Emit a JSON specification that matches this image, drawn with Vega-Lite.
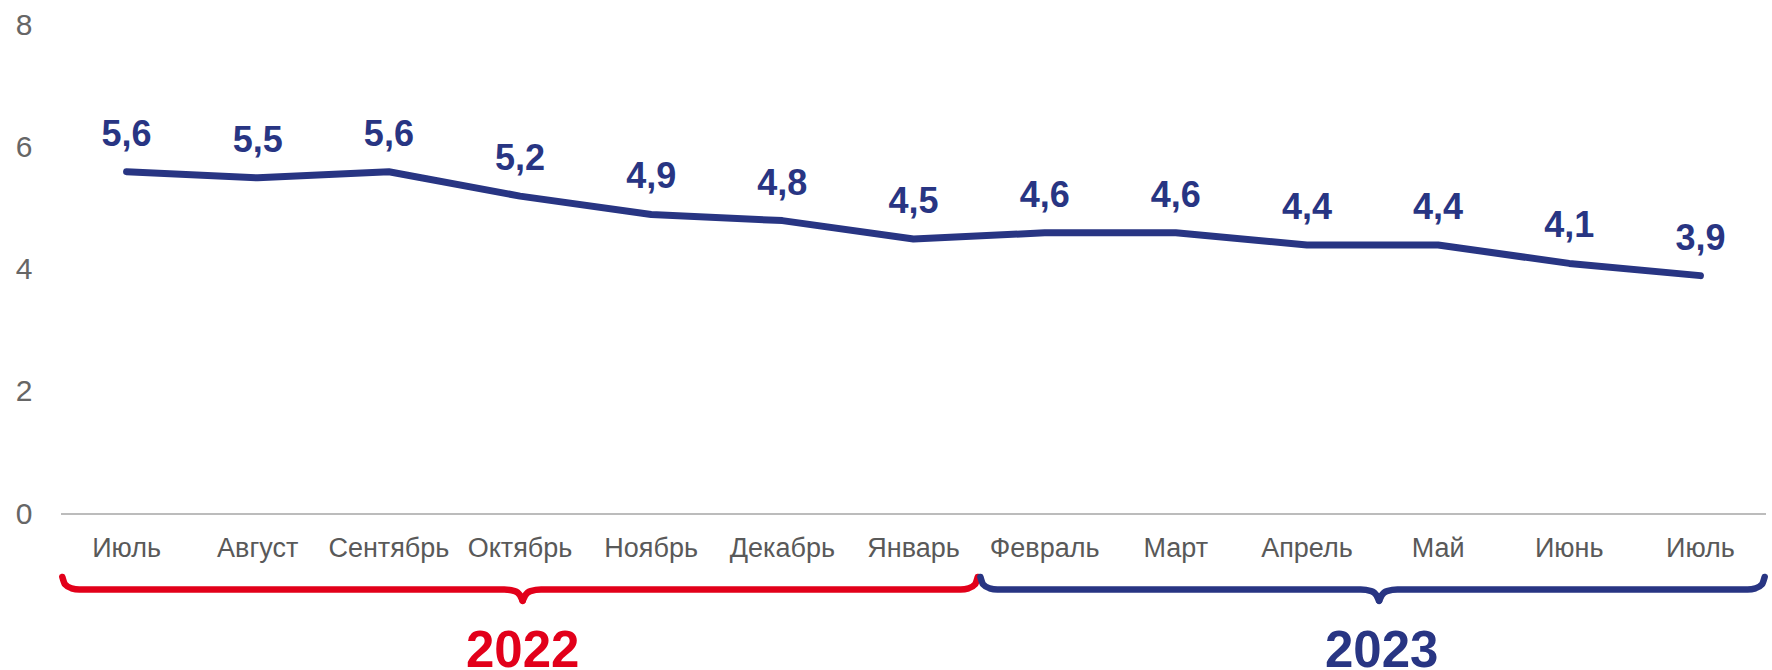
{
  "$schema": "https://vega.github.io/schema/vega-lite/v6.json",
  "autosize": "none",
  "width": 1705,
  "height": 645,
  "padding": {"left": 61, "top": 25, "right": 6, "bottom": 0},
  "background": "white",
  "config": {
    "view": {"stroke": null},
    "font": "Liberation Sans",
    "locale": {"number": {"decimal": ",", "thousands": "\u00a0", "grouping": [3], "currency": ["", ""]}}
  },
  "datasets": {
    "series": [
      {"i": 0, "month": "Июль", "year": "2022", "value": 5.6},
      {"i": 1, "month": "Август", "year": "2022", "value": 5.5},
      {"i": 2, "month": "Сентябрь", "year": "2022", "value": 5.6},
      {"i": 3, "month": "Октябрь", "year": "2022", "value": 5.2},
      {"i": 4, "month": "Ноябрь", "year": "2022", "value": 4.9},
      {"i": 5, "month": "Декабрь", "year": "2022", "value": 4.8},
      {"i": 6, "month": "Январь", "year": "2023", "value": 4.5},
      {"i": 7, "month": "Февраль", "year": "2023", "value": 4.6},
      {"i": 8, "month": "Март", "year": "2023", "value": 4.6},
      {"i": 9, "month": "Апрель", "year": "2023", "value": 4.4},
      {"i": 10, "month": "Май", "year": "2023", "value": 4.4},
      {"i": 11, "month": "Июнь", "year": "2023", "value": 4.1},
      {"i": 12, "month": "Июль", "year": "2023", "value": 3.9}
    ],
    "braces": [
      {"year": "2022", "part": "2022a", "x": -0.49, "y": -1.03},
      {"year": "2022", "part": "2022a", "x": -0.47, "y": -1.15},
      {"year": "2022", "part": "2022a", "x": -0.42, "y": -1.215},
      {"year": "2022", "part": "2022a", "x": -0.36, "y": -1.235},
      {"year": "2022", "part": "2022a", "x": 2.88, "y": -1.235},
      {"year": "2022", "part": "2022a", "x": 2.96, "y": -1.26},
      {"year": "2022", "part": "2022a", "x": 3.0, "y": -1.33},
      {"year": "2022", "part": "2022a", "x": 3.02, "y": -1.42},
      {"year": "2022", "part": "2022b", "x": 3.02, "y": -1.42},
      {"year": "2022", "part": "2022b", "x": 3.04, "y": -1.33},
      {"year": "2022", "part": "2022b", "x": 3.08, "y": -1.26},
      {"year": "2022", "part": "2022b", "x": 3.16, "y": -1.235},
      {"year": "2022", "part": "2022b", "x": 6.36, "y": -1.235},
      {"year": "2022", "part": "2022b", "x": 6.42, "y": -1.215},
      {"year": "2022", "part": "2022b", "x": 6.47, "y": -1.15},
      {"year": "2022", "part": "2022b", "x": 6.49, "y": -1.03},
      {"year": "2023", "part": "2023a", "x": 6.51, "y": -1.03},
      {"year": "2023", "part": "2023a", "x": 6.53, "y": -1.15},
      {"year": "2023", "part": "2023a", "x": 6.58, "y": -1.215},
      {"year": "2023", "part": "2023a", "x": 6.64, "y": -1.235},
      {"year": "2023", "part": "2023a", "x": 9.41, "y": -1.235},
      {"year": "2023", "part": "2023a", "x": 9.49, "y": -1.26},
      {"year": "2023", "part": "2023a", "x": 9.53, "y": -1.33},
      {"year": "2023", "part": "2023a", "x": 9.55, "y": -1.42},
      {"year": "2023", "part": "2023b", "x": 9.55, "y": -1.42},
      {"year": "2023", "part": "2023b", "x": 9.57, "y": -1.33},
      {"year": "2023", "part": "2023b", "x": 9.61, "y": -1.26},
      {"year": "2023", "part": "2023b", "x": 9.69, "y": -1.235},
      {"year": "2023", "part": "2023b", "x": 12.36, "y": -1.235},
      {"year": "2023", "part": "2023b", "x": 12.42, "y": -1.215},
      {"year": "2023", "part": "2023b", "x": 12.47, "y": -1.15},
      {"year": "2023", "part": "2023b", "x": 12.49, "y": -1.03}
    ],
    "years": [
      {"year": "2022", "x": 3.02, "y": -2.495},
      {"year": "2023", "x": 9.57, "y": -2.495}
    ],
    "baseline": [{"v": 0}]
  },
  "layer": [
    {
      "data": {"name": "baseline"},
      "mark": {"type": "rule", "color": "#a6a6a6", "strokeWidth": 1.5},
      "encoding": {"y": {"field": "v", "type": "quantitative"}}
    },
    {
      "data": {"name": "series"},
      "mark": {"type": "line", "color": "#283583", "strokeWidth": 7, "strokeCap": "round", "strokeJoin": "round"},
      "encoding": {
        "x": {"field": "i", "type": "quantitative", "scale": {"domain": [-0.5, 12.5], "nice": false, "zero": false}, "axis": null},
        "y": {"field": "value", "type": "quantitative", "scale": {"domain": [-2.552, 8], "nice": false, "zero": false},
              "axis": {"values": [0, 2, 4, 6, 8], "format": "d", "domain": false, "ticks": false, "grid": false, "labelFontSize": 30, "labelColor": "#666666", "labelPadding": 29, "labelFont": "Liberation Sans", "title": null}}
      }
    },
    {
      "data": {"name": "series"},
      "mark": {"type": "text", "color": "#283583", "fontSize": 36, "fontWeight": "bold", "baseline": "alphabetic", "align": "center", "dy": -26},
      "encoding": {
        "x": {"field": "i", "type": "quantitative"},
        "y": {"field": "value", "type": "quantitative"},
        "text": {"field": "value", "type": "quantitative", "format": ".1f"}
      }
    },
    {
      "data": {"name": "series"},
      "mark": {"type": "text", "color": "#595959", "fontSize": 27, "baseline": "alphabetic", "align": "center"},
      "encoding": {
        "x": {"field": "i", "type": "quantitative"},
        "y": {"datum": -0.703, "type": "quantitative"},
        "text": {"field": "month", "type": "nominal"}
      }
    },
    {
      "data": {"name": "braces"},
      "mark": {"type": "line", "strokeWidth": 6.5, "strokeCap": "round", "strokeJoin": "round", "interpolate": "monotone"},
      "encoding": {
        "x": {"field": "x", "type": "quantitative"},
        "y": {"field": "y", "type": "quantitative"},
        "detail": {"field": "part", "type": "nominal"},
        "color": {"field": "year", "type": "nominal", "scale": {"domain": ["2022", "2023"], "range": ["#e2001a", "#283583"]}, "legend": null}
      }
    },
    {
      "data": {"name": "years"},
      "mark": {"type": "text", "fontSize": 51, "fontWeight": "bold", "baseline": "alphabetic", "align": "center"},
      "encoding": {
        "x": {"field": "x", "type": "quantitative"},
        "y": {"field": "y", "type": "quantitative"},
        "text": {"field": "year", "type": "nominal"},
        "color": {"field": "year", "type": "nominal", "legend": null}
      }
    }
  ]
}
